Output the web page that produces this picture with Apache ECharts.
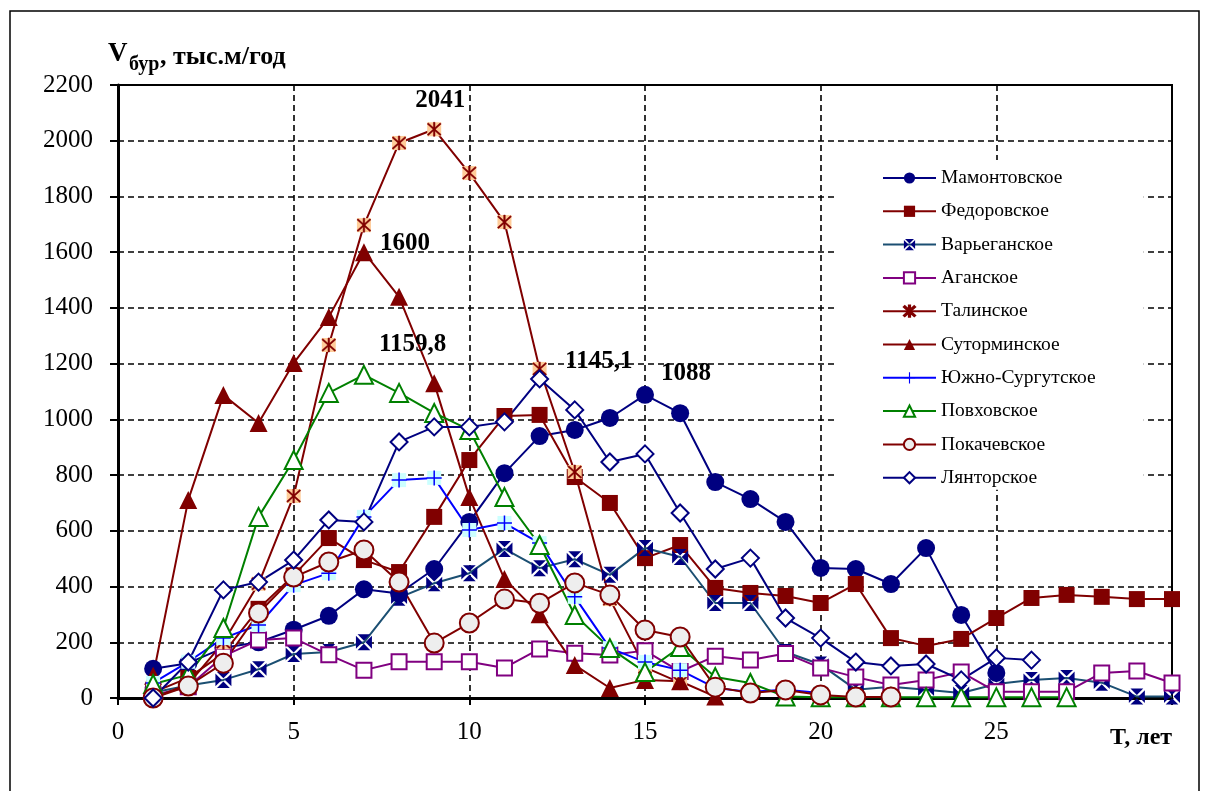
<!DOCTYPE html>
<html><head><meta charset="utf-8">
<script src="https://cdn.jsdelivr.net/npm/echarts@6/dist/echarts.min.js"></script>
<style>html,body{margin:0;padding:0;background:#fff}#c{width:1209px;height:791px}</style>
</head><body><div id="c"></div>
<script>
// ---- data (index 0 = year 1) ----
const years = [1,2,3,4,5,6,7,8,9,10,11,12,13,14,15,16,17,18,19,20,21,22,23,24,25,26,27,28,29,30];
const seriesNames = ['Мамонтовское','Федоровское','Варьеганское','Аганское','Талинское','Суторминское','Южно-Сургутское','Повховское','Покачевское','Лянторское'];
const mamont = [105,125,180,200,245,295,390,375,463,632,807,940,962,1005,1088,1022,775,714,632,467,463,409,538,298,90];
const fedor  = [20,72,160,320,440,574,495,452,650,854,1012,1016,793,700,502,549,395,377,366,341,409,215,187,212,287,359,370,363,355,355];
const varyeg = [20,45,65,103,158,165,200,360,412,448,535,466,498,442,538,506,341,341,165,120,30,40,30,18,50,65,72,55,5,5];
const agan   = [10,40,150,208,215,155,100,130,130,130,108,176,161,154,170,95,150,136,160,108,75,47,65,93,22,22,22,90,97,54];
const talin  = [0,50,200,410,725,1267,1697,1992,2041,1884,1708,1181,811,355,110,55];
const sutor  = [80,711,1087,987,1202,1367,1600,1440,1130,721,427,301,118,36,65,60,5];
const yuzhno = [54,130,215,262,405,448,650,782,790,603,628,556,363,179,129,100,36,22,30,18];
const povkh  = [50,83,251,650,854,1095,1159.8,1095,1023,962,721,549,298,179,93,183,75,54,5,3,3,3,3,3,3,3,3];
const pokach = [0,43,125,305,434,488,531,416,197,269,355,340,413,370,244,219,39,18,29,11,4,4];
const lyant  = [0,129,388,416,495,639,632,919,973,973,991,1145.1,1034,847,876,664,463,502,287,215,129,115,122,65,144,136];
const xTickLabels = ['0','5','10','15','20','25'];
const yTickLabels = ['0','200','400','600','800','1000','1200','1400','1600','1800','2000','2200'];
const peakLabels = [
  {series:'Талинское', year:9, text:'2041'},
  {series:'Суторминское', year:7, text:'1600'},
  {series:'Повховское', year:7, text:'1159,8'},
  {series:'Лянторское', year:12, text:'1145,1'},
  {series:'Мамонтовское', year:15, text:'1088'}
];
const titleMain = 'V', titleSub = 'бур', titleRest = ', тыс.м/год';
const xAxisTitle = 'T, лет';

// ---- styling ----
const FONT = '"Liberation Serif","Times New Roman",serif';
const NAVY='#000080', DRED='#800000', PURPLE='#800080', BLUE='#0000FF', GREEN='#008000', TEAL='#1B4F72';
const labelStyle = {
  'Талинское':   {position:'top', offset:[6,-4]},
  'Суторминское':{position:'right', offset:[2,-9]},
  'Повховское':  {position:'right', offset:[0,-30]},
  'Лянторское':  {position:'right', offset:[11,-17]},
  'Мамонтовское':{position:'right', offset:[2,-21]}
};
const pathXSquare = 'path://M2,0L18,0L10,8ZM20,2L20,18L12,10ZM18,20L2,20L10,12ZM0,18L0,2L8,10Z';
const pathAster = 'path://M9,0L11,0L11,20L9,20ZM1,2.4L2.4,1L19,17.6L17.6,19ZM17.6,1L19,2.4L2.4,19L1,17.6Z';
const pathPlus = 'path://M9,0L11,0L11,20L9,20ZM0,9L20,9L20,11L0,11Z';

function toData(name, vals){
  return vals.map((v,i)=>{
    const yr = years[i];
    const pl = peakLabels.find(p=>p.series===name && p.year===yr);
    if(pl){
      const ls = labelStyle[name];
      return {value:[yr,v], label:{show:true, formatter:pl.text, position:ls.position, offset:ls.offset,
        fontFamily:FONT, fontWeight:'bold', fontSize:25, color:'#000'}};
    }
    return [yr,v];
  });
}
function mk(name, vals, lineColor, symbol, size, fill, border, bw, extra){
  return Object.assign({
    name, type:'line', data:toData(name, vals), symbol, symbolSize:size, showAllSymbol:true,
    lineStyle:{color:lineColor, width:2},
    itemStyle:{color:fill, borderColor:border||fill, borderWidth:bw||0},
    emphasis:{disabled:true}, animation:false, z:2
  }, extra||{});
}
function bg(vals, color, size){
  return {name:'_bg', type:'line', data:vals.map((v,i)=>[years[i],v]), symbol:'rect', symbolSize:size,
    showAllSymbol:true, lineStyle:{width:0, opacity:0}, itemStyle:{color}, emphasis:{disabled:true}, animation:false, z:2, silent:true};
}

const series = [
  mk('Мамонтовское', mamont, NAVY, 'circle', 18, NAVY),
  mk('Федоровское', fedor, DRED, 'rect', 16, DRED),
  mk('Варьеганское', varyeg, TEAL, pathXSquare, 16, NAVY),
  mk('Аганское', agan, PURPLE, 'rect', 15, '#fff', PURPLE, 2),
  bg(talin, '#FFCC99', 14),
  mk('Талинское', talin, DRED, pathAster, 14, DRED, DRED, 0.5),
  mk('Суторминское', sutor, DRED, 'triangle', 18, DRED),
  bg(yuzhno, '#CCFFFF', 14),
  mk('Южно-Сургутское', yuzhno, BLUE, pathPlus, 15, BLUE),
  mk('Повховское', povkh, GREEN, 'triangle', 18, '#fff', GREEN, 2),
  mk('Покачевское', pokach, DRED, 'circle', 19, '#EEEEEE', DRED, 2),
  mk('Лянторское', lyant, NAVY, 'diamond', 17, '#fff', NAVY, 2)
];

const chart = echarts.init(document.getElementById('c'), null, {renderer:'canvas'});
chart.setOption({
  animation:false,
  backgroundColor:'#fff',
  grid:{left:118, right:37, top:85, bottom:93, show:true, borderColor:'#000', borderWidth:2, backgroundColor:'transparent'},
  xAxis:{type:'value', min:0, max:30, interval:5,
    axisLine:{show:true, onZero:false, lineStyle:{color:'#000', width:3}},
    axisTick:{show:true, inside:false, length:7, lineStyle:{color:'#000', width:2}},
    axisLabel:{margin:22, fontFamily:FONT, fontSize:25, color:'#000',
      formatter:(v)=>{const i=[0,5,10,15,20,25].indexOf(v); return i>=0?xTickLabels[i]:'';}},
    splitLine:{show:true, lineStyle:{color:'#000', type:[6,4], width:1.6}}},
  yAxis:{type:'value', min:0, max:2200, interval:200,
    axisLine:{show:true, onZero:false, lineStyle:{color:'#000', width:3}},
    axisTick:{show:true, inside:false, length:8, lineStyle:{color:'#000', width:2}},
    axisLabel:{margin:25, fontFamily:FONT, fontSize:25, color:'#000',
      formatter:(v)=>yTickLabels[Math.round(v/200)]},
    splitLine:{show:true, lineStyle:{color:'#000', type:[6,4], width:1.6}}},
  legend:{data:seriesNames, orient:'vertical', left:835, top:160, padding:[8,48,2,47],
    backgroundColor:'#fff', itemWidth:53, itemHeight:14, itemGap:13.3,
    textStyle:{fontFamily:FONT, fontSize:19.5, color:'#000', lineHeight:20}, selectedMode:false},
  graphic:[
    {type:'rect', shape:{x:10, y:11, width:1189, height:800}, style:{fill:'none', stroke:'#000', lineWidth:1.5}, silent:true},
    {type:'text', left:108, top:41, style:{text:titleMain, fontFamily:FONT, fontWeight:'bold', fontSize:27, fill:'#000'}},
    {type:'text', left:129, top:55, style:{text:titleSub, fontFamily:FONT, fontWeight:'bold', fontSize:20, fill:'#000'}},
    {type:'text', left:160, top:44, style:{text:titleRest, fontFamily:FONT, fontWeight:'bold', fontSize:26, fill:'#000'}},
    {type:'text', left:1110, top:726, style:{text:xAxisTitle, fontFamily:FONT, fontWeight:'bold', fontSize:24, fill:'#000'}}
  ],
  series
});
</script></body></html>
